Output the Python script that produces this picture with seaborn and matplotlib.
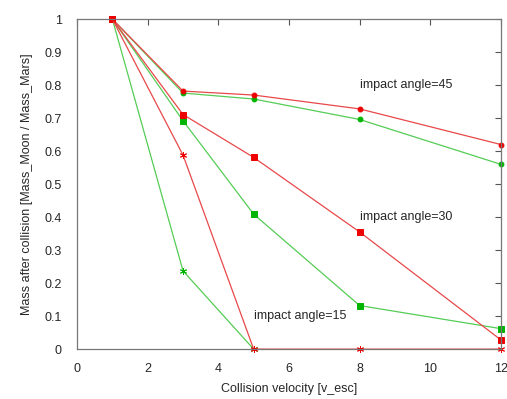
import matplotlib
matplotlib.use("Agg")
import matplotlib.pyplot as plt
import seaborn as sns
import pandas as pd

sns.set_style("white")
plt.rcParams['font.family'] = ['Liberation Sans', 'DejaVu Sans']

# velocities [v_esc]
vel_45 = [1, 3, 5, 8, 12]
vel_30 = [1, 3, 5, 8, 12]
vel_15_red = [1, 3, 5, 8, 12]
vel_15_green = [1, 3, 5]

# remaining mass fraction
red_45 = [1.0, 0.782, 0.770, 0.728, 0.620]
green_45 = [1.0, 0.776, 0.758, 0.696, 0.560]
red_30 = [1.0, 0.711, 0.581, 0.355, 0.028]
green_30 = [1.0, 0.692, 0.409, 0.132, 0.062]
red_15 = [1.0, 0.588, 0.0, 0.0, 0.0]
green_15 = [1.0, 0.237, 0.0]

RED_LINE, RED_MK = "#e8484a", "#ee0000"
GREEN_LINE, GREEN_MK = "#55cc55", "#00b400"

# greens first so the red marks sit on top where they coincide
series = [
    (vel_45, green_45, GREEN_LINE, GREEN_MK, "o", 3.5),
    (vel_30, green_30, GREEN_LINE, GREEN_MK, "s", 5),
    (vel_15_green, green_15, GREEN_LINE, GREEN_MK, (6, 2, 0), 5),
    (vel_45, red_45, RED_LINE, RED_MK, "o", 3.5),
    (vel_30, red_30, RED_LINE, RED_MK, "s", 5),
    (vel_15_red, red_15, RED_LINE, RED_MK, (6, 2, 0), 5),
]

fig = plt.figure(figsize=(5.07, 3.99), dpi=100)
ax = fig.add_axes([0.152, 0.125, 0.836, 0.827])

for xs, ys, lc, mc, mk, ms in series:
    df = pd.DataFrame({"v": xs, "m": ys})
    sns.lineplot(data=df, x="v", y="m", ax=ax, color=lc, linewidth=0.9,
                 marker=mk, markersize=ms, markerfacecolor=mc,
                 markeredgecolor=mc, markeredgewidth=0.7, clip_on=False)

ax.set_xlim(0, 12)
ax.set_ylim(0, 1)
ax.set_xticks(range(0, 13, 2))
ax.set_yticks([i / 10 for i in range(11)])
ax.set_yticklabels(["0", "0.1", "0.2", "0.3", "0.4", "0.5", "0.6", "0.7", "0.8", "0.9", "1"])
ax.tick_params(direction="in", top=True, right=True, length=4, width=0.8,
               color="#555555", labelsize=9)
ax.tick_params(axis="x", pad=10)
ax.tick_params(axis="y", pad=11)
for sp in ax.spines.values():
    sp.set_color("#777777")
    sp.set_linewidth(0.9)

ax.set_xlabel("Collision velocity [v_esc]", fontsize=9, labelpad=6)
ax.set_ylabel("Mass after collision [Mass_Moon / Mass_Mars]", fontsize=9, labelpad=8)

ax.text(8.0, 0.8, "impact angle=45", fontsize=9, va="center")
ax.text(8.0, 0.4, "impact angle=30", fontsize=9, va="center")
ax.text(5.0, 0.1, "impact angle=15", fontsize=9, va="center")

fig.savefig("out.png", dpi=100)
